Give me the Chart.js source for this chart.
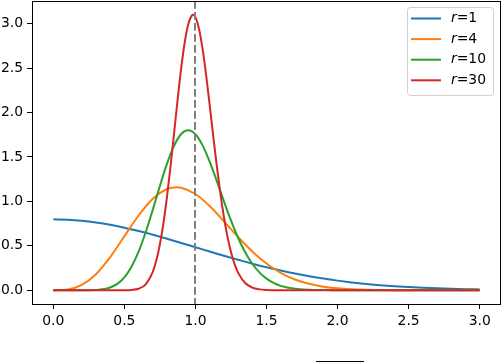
<!DOCTYPE html>
<html>
<head>
<meta charset="utf-8">
<script src="https://cdn.jsdelivr.net/npm/chart.js@4/dist/chart.umd.min.js"></script>
<style>
html,body{margin:0;padding:0;background:#fff;}
canvas{display:block;}
</style>
</head>
<body>
<canvas id="c" width="502" height="362"></canvas>
<script>
// ---- data ----
const seriesLabels = ["1", "4", "10", "30"];
const seriesColors = ["#1f77b4", "#ff7f0e", "#2ca02c", "#d62728"];

const x1 = [0,0.1,0.2,0.3,0.4,0.5,0.6,0.7,0.8,0.9,1.0,1.1,1.2,1.3,1.4,1.5,1.6,1.7,1.8,1.9,2.0,2.1,2.2,2.3,2.4,2.5,2.6,2.7,2.8,2.9,3.0];
const y1 = [0.798,0.794,0.782,0.763,0.737,0.704,0.666,0.625,0.579,0.532,0.484,0.436,0.388,0.343,0.299,0.259,0.222,0.188,0.158,0.131,0.108,0.088,0.071,0.057,0.045,0.035,0.027,0.021,0.016,0.012,0.009];

const x4 = [0,0.1,0.2,0.3,0.4,0.5,0.6,0.7,0.8,0.866,0.9,1.0,1.1,1.2,1.3,1.4,1.5,1.6,1.7,1.8,1.9,2.0,2.1,2.2,2.3,2.4,2.5,2.6,3.0];
const y4 = [0,0.008,0.059,0.180,0.372,0.607,0.841,1.030,1.139,1.159,1.154,1.083,0.947,0.776,0.599,0.436,0.300,0.196,0.121,0.072,0.040,0.022,0.011,0.005,0.003,0.001,0.0005,0,0];

const x10 = [0,0.15,0.2,0.25,0.3,0.35,0.4,0.45,0.5,0.55,0.6,0.65,0.7,0.75,0.8,0.85,0.9,0.95,1.0,1.05,1.1,1.15,1.2,1.25,1.3,1.35,1.4,1.45,1.5,1.55,1.6,1.7,1.8,1.9,2.0,2.2,3.0];
const y10 = [0,0,0.0001,0.0007,0.0033,0.0111,0.0307,0.0716,0.1457,0.2643,0.4338,0.6523,0.9068,1.1743,1.4248,1.6276,1.7578,1.8007,1.7548,1.6306,1.4479,1.2308,1.0032,0.7851,0.5908,0.4277,0.2983,0.2007,0.1302,0.0816,0.0494,0.0164,0.0048,0.0012,0.0003,0,0];

const x30 = [0,0.45,0.5,0.55,0.6,0.65,0.7,0.725,0.75,0.775,0.8,0.825,0.85,0.875,0.9,0.925,0.95,0.975,0.983,1.0,1.025,1.05,1.075,1.1,1.125,1.15,1.175,1.2,1.225,1.25,1.275,1.3,1.35,1.4,1.45,1.5,1.6,1.7,3.0];
const y30 = [0,0,0.0004,0.0032,0.0167,0.0667,0.2079,0.3370,0.5181,0.7568,1.0528,1.3973,1.7720,2.1509,2.5023,2.7938,2.9973,3.0929,3.099,3.0731,2.9429,2.7180,2.4244,2.0891,1.7403,1.4026,1.0943,0.8270,0.6057,0.4302,0.2963,0.1982,0.0811,0.0296,0.0096,0.0028,0.0002,0,0];

const xTicks = [0,0.5,1.0,1.5,2.0,2.5,3.0];
const yTicks = [0,0.5,1.0,1.5,2.0,2.5,3.0];
const refLineX = 1.0;

// ---- chart ----
const FONT = "'DejaVu Sans'";
const FS = 13.9;
Chart.defaults.font.family = FONT;
Chart.defaults.font.size = FS;
Chart.defaults.color = "#000";

const xs = [x1, x4, x10, x30];
const ys = [y1, y4, y10, y30];
const datasets = xs.map((xa, i) => ({
  label: "r=" + seriesLabels[i],
  data: xa.map((v, j) => ({x: v, y: ys[i][j]})),
  borderColor: seriesColors[i],
  backgroundColor: seriesColors[i],
  borderWidth: 2,
  pointRadius: 0,
  fill: false,
  cubicInterpolationMode: "monotone",
  order: 4 - i
}));

const decor = {
  id: "decor",
  afterDatasetsDraw(chart) {
    const {ctx, chartArea: a, scales: {x}} = chart;
    const px = Math.round(x.getPixelForValue(refLineX));
    ctx.save();
    ctx.beginPath();
    ctx.rect(a.left, a.top, a.right - a.left, a.bottom - a.top);
    ctx.clip();
    ctx.beginPath();
    ctx.strokeStyle = "#808080";
    ctx.lineWidth = 2;
    ctx.setLineDash([7.7, 3.3]);
    ctx.moveTo(px, a.top);
    ctx.lineTo(px, a.bottom);
    ctx.stroke();
    ctx.restore();
  },
  afterDraw(chart) {
    const {ctx, chartArea: a} = chart;
    ctx.save();
    // spines
    ctx.strokeStyle = "#000";
    ctx.lineWidth = 1;
    ctx.strokeRect(a.left + 0.5, a.top + 0.5, a.right - a.left - 1, a.bottom - a.top);
    // legend
    const lx = 407.5, ly = 7.5, lw = 86, lh = 88;
    ctx.beginPath();
    ctx.roundRect(lx, ly, lw, lh, 3);
    ctx.fillStyle = "rgba(255,255,255,0.8)";
    ctx.fill();
    ctx.strokeStyle = "#d0d0d0";
    ctx.lineWidth = 1;
    ctx.stroke();
    seriesLabels.forEach((lab, i) => {
      const y = 18.5 + i * 20.6;
      ctx.beginPath();
      ctx.strokeStyle = seriesColors[i];
      ctx.lineWidth = 2;
      ctx.moveTo(411, y);
      ctx.lineTo(441, y);
      ctx.stroke();
      ctx.fillStyle = "#000";
      ctx.textBaseline = "middle";
      ctx.textAlign = "left";
      ctx.font = "italic " + FS + "px " + FONT;
      ctx.fillText("r", 451, y);
      const w = ctx.measureText("r").width;
      ctx.font = FS + "px " + FONT;
      ctx.fillText("=" + lab, 451 + w, y);
    });
    // top of the clipped axis label below the plot
    ctx.beginPath();
    ctx.strokeStyle = "#000";
    ctx.lineWidth = 1;
    ctx.moveTo(316, 361.5);
    ctx.lineTo(364, 361.5);
    ctx.stroke();
    ctx.restore();
  }
};

new Chart(document.getElementById("c"), {
  type: "line",
  data: {datasets},
  plugins: [decor],
  options: {
    responsive: false,
    animation: false,
    devicePixelRatio: 1,
    layout: {padding: {left: 0, right: 1, top: 1, bottom: 0}},
    plugins: {legend: {display: false}, tooltip: {enabled: false}},
    scales: {
      x: {
        type: "linear",
        min: -0.15, max: 3.15,
        afterBuildTicks: s => { s.ticks = xTicks.map(v => ({value: v})); },
        afterFit: s => { s.height = 58; s.paddingLeft = 0; s.paddingRight = 0; },
        ticks: {callback: v => Number(v).toFixed(1), padding: 4, maxRotation: 0, autoSkip: false, color: "#000"},
        grid: {display: true, drawOnChartArea: false, drawTicks: true, tickLength: 5, tickWidth: 1, tickColor: "#000"},
        border: {display: false}
      },
      y: {
        type: "linear",
        min: -0.155, max: 3.255,
        afterBuildTicks: s => { s.ticks = yTicks.map(v => ({value: v})); },
        afterFit: s => { s.width = 32; s.paddingTop = 0; s.paddingBottom = 0; },
        ticks: {callback: v => Number(v).toFixed(1), padding: 4, autoSkip: false, color: "#000"},
        grid: {display: true, drawOnChartArea: false, drawTicks: true, tickLength: 5, tickWidth: 1, tickColor: "#000"},
        border: {display: false}
      }
    }
  }
});
</script>
</body>
</html>
